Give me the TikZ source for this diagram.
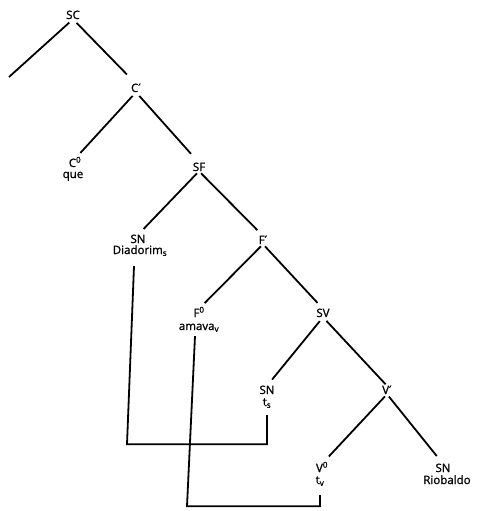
\documentclass[tikz,border=0pt]{standalone}
\usepackage{fontspec}
\setmainfont[FakeBold=1.2]{Open Sans}
\newfontfamily\dvfont[FakeBold=1.2]{DejaVu Sans}
\newcommand{\xbarmark}{{\dvfont ′}}
\begin{document}
\begin{tikzpicture}[x=1pt,y=-1pt,
  cat/.style={inner sep=0pt,text height=8pt,text depth=0pt,font=\fontsize{11.5}{12}\selectfont},
  word/.style={inner sep=0pt,text height=8pt,text depth=2pt,font=\fontsize{11.5}{12}\selectfont},
  branch/.style={line width=1.8pt,shorten <=5pt,shorten >=8pt},
  move/.style={line width=1.8pt}]
\useasboundingbox (0,0) rectangle (477,511);
% category nodes
\node[cat] (sc) at (73,15) {SC};
\node[cat] (cp) at (136,88) {C\xbarmark};
\node[cat] (c0) at (75,163) {C\textsuperscript{0}};
\node[word] (que) at (73,175) {que};
\node[cat] (sf) at (199,167) {SF};
\node[cat] (snD) at (138,239) {SN};
\node[word] (diad) at (140,251) {Diadorim\textsubscript{s}};
\node[cat] (fp) at (263,240) {F\xbarmark};
\node[cat] (f0) at (199,313) {F\textsuperscript{0}};
\node[word] (amava) at (199,327) {amava\textsubscript{v}};
\node[cat] (sv) at (323,313) {SV};
\node[cat] (snT) at (267,390) {SN};
\node[word] (ts) at (267,403) {t\textsubscript{s}};
\node[cat] (vp) at (387,390) {V\xbarmark};
\node[cat] (v0) at (322,468) {V\textsuperscript{0}};
\node[word] (tv) at (320,481) {t\textsubscript{v}};
\node[cat] (snR) at (443,468) {SN};
\node[word] (rio) at (447,481) {Riobaldo};
\coordinate (spec) at (9,77);
% branches
\draw[branch,shorten >=0pt] (sc.south) -- (spec);
\draw[branch,shorten >=13pt] (sc.south) -- (cp.north);
\draw[branch] (cp.south) -- (c0.north);
\draw[branch,shorten >=12pt] (cp.south) -- (sf.north);
\draw[branch,shorten <=3pt] (sf.south) -- (snD.north);
\draw[branch,shorten <=3pt] (sf.south) -- (fp.north);
\draw[branch,shorten <=3pt] (fp.south) -- (f0.north);
\draw[branch,shorten <=3pt] (fp.south) -- (sv.north);
\draw[branch] (sv.south) -- (snT.north);
\draw[branch,shorten >=2pt] (sv.south) -- (vp.north);
\draw[branch,shorten <=3pt,shorten >=10pt] (vp.south) -- (v0.north);
\draw[branch,shorten <=3pt,shorten >=10pt] (vp.south) -- (snR.north);
% movement lines
\draw[move] ([xshift=-6pt,yshift=-10pt]diad.south) -- ++(-7,178) -| ([yshift=-7pt]ts.south);
\draw[move] ([xshift=-4pt,yshift=-4pt]amava.south) -- ++(-8,170) -| ([yshift=-9pt]tv.south);
\end{tikzpicture}
\end{document}
